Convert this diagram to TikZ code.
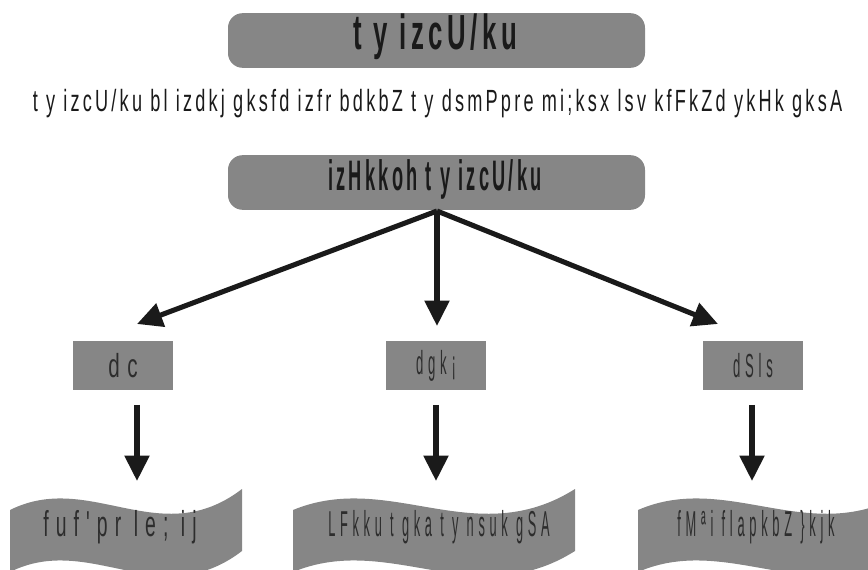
\documentclass[tikz,border=0pt]{standalone}
\usepackage{fontspec}
\usepackage{graphicx}
\setmainfont{Liberation Sans}
\newfontfamily\kfont[FakeStretch=0.68,LetterSpace=12]{Liberation Sans}
\newfontfamily\kwide[FakeStretch=0.6,LetterSpace=22]{Liberation Sans}
\usetikzlibrary{arrows.meta}
\definecolor{boxgray}{RGB}{134,134,134}
\definecolor{ink}{RGB}{26,26,26}
\definecolor{txt}{RGB}{45,45,45}
\newcommand{\fitw}[2]{\resizebox{#1}{\height}{#2}}
\tikzset{
  bigbox/.style={fill=boxgray, rounded corners=11pt, minimum width=312.75pt, minimum height=41pt, inner sep=0pt},
  smallbox/.style={fill=boxgray, minimum width=75pt, minimum height=37pt, inner sep=0pt, text=txt, font=\kwide\fontsize{25}{28}\selectfont},
  banner/.style={fill=boxgray},
  bannertext/.style={text=txt, font=\kwide\fontsize{27}{30}\selectfont, inner sep=0pt},
  conn/.style={draw=ink, line width=3.8pt, -{Triangle[length=19pt,width=18pt]}, shorten <=0pt}
}
\begin{document}
\begin{tikzpicture}[x=0.75pt,y=-0.75pt]
\useasboundingbox (0,0) rectangle (868,570);
\clip (0,0) rectangle (868,570);
% title
\node[bigbox] (title) at (436.5,40.5) {};
\node[text=ink, font=\kfont\fontsize{37}{40}\selectfont\bfseries, inner sep=0pt] (titletext) at (435,37) {\fitw{123pt}{t y izcU/ku}};
% description line
\node[text=ink, font=\kfont\fontsize{23}{26}\selectfont, inner sep=0pt] (desc) at (437.5,104) {\fitw{607pt}{t y izcU/ku bl izdkj gksfd izfr bdkbZ t y dsmPpre mi;ksx lsv kfFkZd ykHk gksA}};
% second box
\node[bigbox] (main) at (436.5,182.5) {};
\node[text=ink, font=\kfont\fontsize{32}{36}\selectfont\bfseries, inner sep=0pt] (maintext) at (435,179) {\fitw{160pt}{izHkkoh t y izcU/ku}};
% small boxes
\node[smallbox] (kab) at (123,365.5) {\fitw{22pt}{dc}};
\node[smallbox] (kahan) at (436,365.5) {\fitw{30pt}{dgk¡}};
\node[smallbox] (kaise) at (753,365.5) {\fitw{30pt}{dSls}};
% arrow coordinates
\coordinate (src) at (437,211);
\coordinate (e1) at (137,324);
\coordinate (e2) at (437,326);
\coordinate (e3) at (718,324);
\draw[conn] (src) -- (e1);
\draw[conn] (src) -- (e2);
\draw[conn] (src) -- (e3);
\coordinate (d1s) at (137,405);
\coordinate (d1e) at (137,481);
\coordinate (d2s) at (436,405);
\coordinate (d2e) at (436,481);
\coordinate (d3s) at (752,405);
\coordinate (d3e) at (752,481);
\draw[conn] (d1s) -- (d1e);
\draw[conn] (d2s) -- (d2e);
\draw[conn] (d3s) -- (d3e);
% banners
\fill[banner] (10,510) .. controls (90,470) and (160,552) .. (242,489) -- (242,551) .. controls (160,614) and (90,532) .. (10,572) -- cycle;
\fill[banner] (293,510) .. controls (390,470) and (475,552) .. (575,489) -- (575,551) .. controls (475,614) and (390,532) .. (293,572) -- cycle;
\fill[banner] (638,510) .. controls (730,470) and (815,552) .. (910,489) -- (910,551) .. controls (815,614) and (730,532) .. (638,572) -- cycle;
\node[bannertext] (b1) at (120,527) {\fitw{115pt}{fuf'pr le; ij}};
\node[bannertext] (b2) at (439,527) {\fitw{166pt}{LFkku t gka t y nsuk gSA}};
\node[bannertext] (b3) at (756,527) {\fitw{118pt}{fMªi flapkbZ \}kjk}};
\end{tikzpicture}
\end{document}
